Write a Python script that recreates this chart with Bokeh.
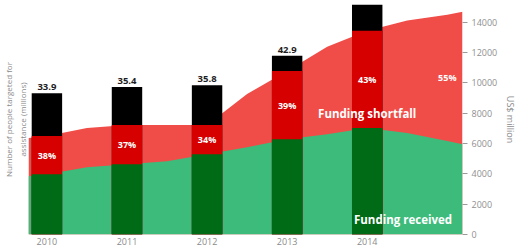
from bokeh.plotting import figure
from bokeh.models import Range1d, LinearAxis, FixedTicker
from bokeh.core.properties import value
from bokeh.embed import file_html
from bokeh.resources import INLINE

# ---- data ----
years = [2010, 2011, 2012, 2013, 2014]
year_labels = ["2010", "2011", "2012", "2013", "2014"]
people = [33.9, 35.4, 35.8, 42.9, 57.0]          # millions (bars)
people_labels = ["33.9", "35.4", "35.8", "42.9", "57.0"]

area_years = [2009.77, 2010, 2010.5, 2011, 2011.5, 2012, 2012.5,
              2013, 2013.5, 2014, 2014.5, 2015, 2015.19]
required = [6360, 6490, 7020, 7220, 7220, 7220, 9270,
            10790, 12380, 13440, 14110, 14500, 14700]   # US$ million
received = [3840, 3970, 4440, 4640, 4830, 5300, 5760,
            6290, 6620, 7020, 6690, 6160, 5960]         # US$ million

pct_years = [2010, 2011, 2012, 2013, 2014, 2015]
pct_labels = ["38%", "37%", "34%", "39%", "43%", "55%"]

fund_ticks = [0, 2000, 4000, 6000, 8000, 10000, 12000, 14000]

# ---- colours ----
RED_AREA = "#f04d48"
GREEN_AREA = "#3dbb7b"
BAR_RED = "#d60000"
BAR_GREEN = "#006b16"
FONT = "Open Sans"

PEOPLE_MAX = 55.2
FUND_MAX = 15170

p = figure(width=520, height=247, output_backend="svg", toolbar_location=None,
           x_range=Range1d(2009.77, 2015.19), y_range=Range1d(0, PEOPLE_MAX),
           min_border_left=0, min_border_right=0, min_border_top=4,
           min_border_bottom=0)
p.extra_y_ranges = {"fund": Range1d(0, FUND_MAX)}
p.outline_line_color = None
p.background_fill_color = "white"
p.xgrid.visible = False
p.ygrid.visible = False

# areas
p.varea(x=area_years, y1=0, y2=required, fill_color=RED_AREA, y_range_name="fund")
p.varea(x=area_years, y1=0, y2=received, fill_color=GREEN_AREA, y_range_name="fund")

# bars: black full bar, dark red / dark green where they cross the areas
idx = [area_years.index(y) for y in years]
req_b = [required[i] for i in idx]
rec_b = [received[i] for i in idx]
W = 0.38
p.vbar(x=years, top=people, width=W, fill_color="black", line_color=None)
p.vbar(x=years, top=req_b, width=W, fill_color=BAR_RED, line_color=None, y_range_name="fund")
p.vbar(x=years, top=rec_b, width=W, fill_color=BAR_GREEN, line_color=None, y_range_name="fund")

# bar value labels (only for bars whose top lies inside the plot)
vis = [i for i, v in enumerate(people) if v < PEOPLE_MAX - 3]
p.text(x=[years[i] for i in vis], y=[people[i] for i in vis],
       text=[people_labels[i] for i in vis], text_align="center", text_baseline="bottom",
       y_offset=-3, text_font=value(FONT), text_font_size="9.5px", text_font_style="bold",
       text_color="#1e1e1e")

# shortfall percentages
pidx = [area_years.index(y) for y in pct_years]
pct_y = [(required[i] + received[i]) / 2 for i in pidx]
p.text(x=pct_years, y=pct_y, text=pct_labels, text_align="center", text_baseline="middle",
       text_font=value(FONT), text_font_size="9px", text_font_style="bold",
       text_color="white", y_range_name="fund")

# area labels
p.text(x=[2014.0], y=[7960], text=["Funding shortfall"], text_align="center",
       text_baseline="middle", text_font=value(FONT), text_font_size="11.5px",
       text_font_style="bold", text_color="white", y_range_name="fund")
p.text(x=[2015.06], y=[1000], text=["Funding received"], text_align="right",
       text_baseline="middle", text_font=value(FONT), text_font_size="11.5px",
       text_font_style="bold", text_color="white", y_range_name="fund")

# x axis
xa = p.xaxis[0]
xa.ticker = FixedTicker(ticks=years)
xa.major_label_overrides = {y: l for y, l in zip(years, year_labels)}
xa.axis_line_color = None
xa.major_tick_line_color = None
xa.minor_tick_line_color = None
xa.major_tick_out = 0
xa.major_tick_in = 0
xa.major_label_standoff = 3
xa.major_label_text_font = FONT
xa.major_label_text_font_size = "9px"
xa.major_label_text_color = "#8a8a8a"

# left axis (title only)
ya = p.yaxis[0]
ya.ticker = FixedTicker(ticks=[])
ya.axis_line_color = None
ya.major_tick_line_color = None
ya.minor_tick_line_color = None
ya.major_tick_out = 0
ya.major_tick_in = 0
ya.major_label_standoff = 0
ya.axis_label = "Number of people targeted for\nassistance (millions)"
ya.axis_label_text_font = FONT
ya.axis_label_text_font_size = "8px"
ya.axis_label_text_font_style = "normal"
ya.axis_label_text_color = "#8a8a8a"
ya.axis_label_standoff = 1

# right axis
ra = LinearAxis(y_range_name="fund", ticker=FixedTicker(ticks=fund_ticks))
ra.axis_line_color = None
ra.major_tick_line_color = "#9a9a9a"
ra.major_tick_in = 0
ra.major_tick_out = 5
ra.minor_tick_line_color = None
ra.major_label_standoff = 4
ra.major_label_text_font = FONT
ra.major_label_text_font_size = "9px"
ra.major_label_text_color = "#8f8f8f"
ra.axis_label = "US$ million"
ra.axis_label_text_font = FONT
ra.axis_label_text_font_size = "9px"
ra.axis_label_text_font_style = "normal"
ra.axis_label_text_color = "#8a8a8a"
ra.axis_label_standoff = 4
p.add_layout(ra, "right")

open("out.html", "w").write(file_html(p, INLINE))
